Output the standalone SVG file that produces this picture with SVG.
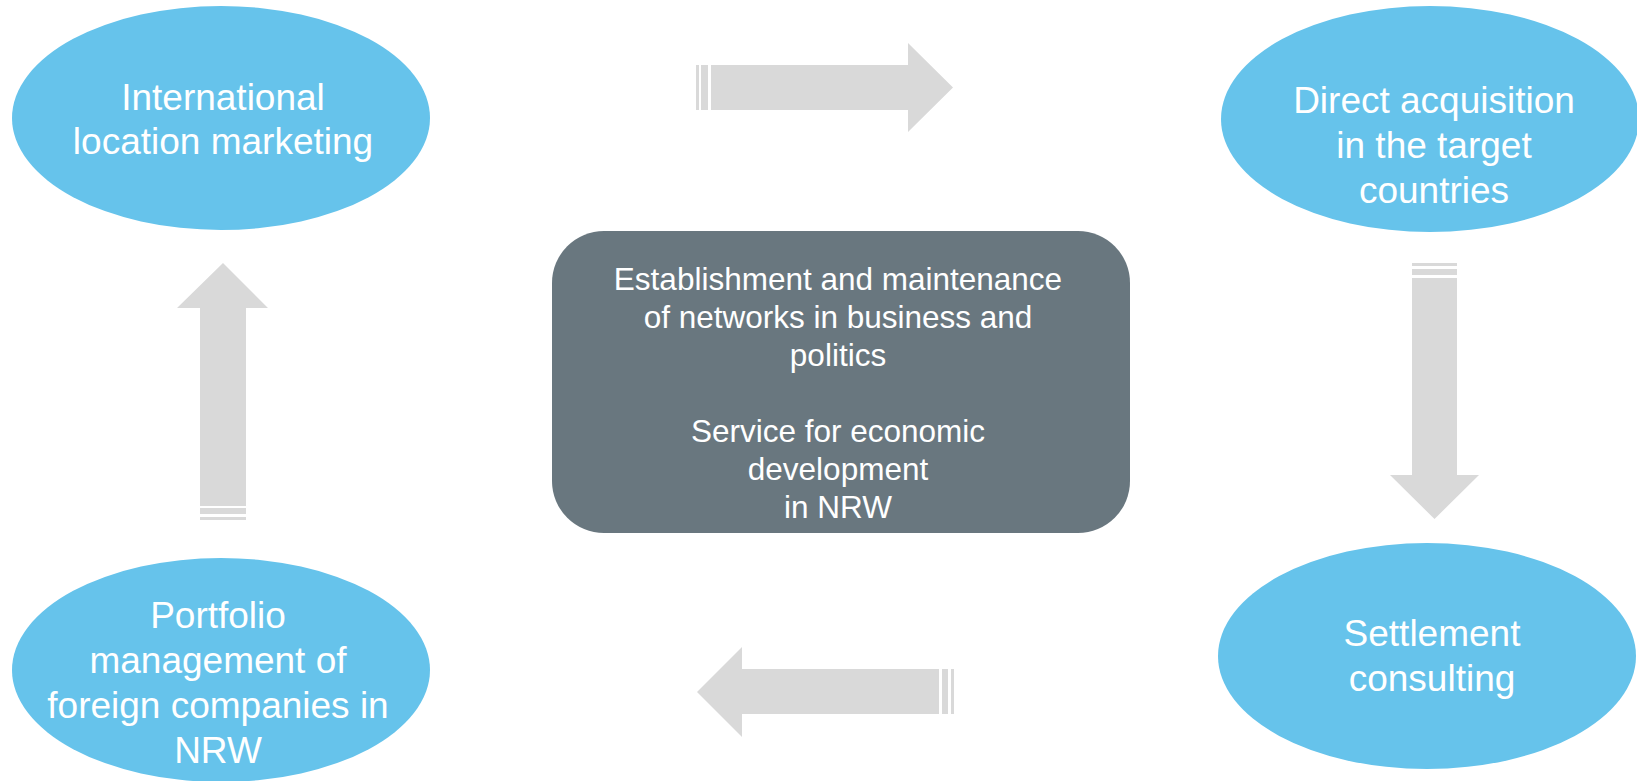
<svg xmlns="http://www.w3.org/2000/svg" width="1637" height="781" viewBox="0 0 1637 781">
<style>
.ell{fill:#66C3EB;}
.box{fill:#69777F;}
.arr{fill:#D9D9D9;}
.t{font-family:"Liberation Sans",Arial,sans-serif;fill:#FFFFFF;text-anchor:middle;}
.big{font-size:37px;}
.mid{font-size:31.5px;}
</style>
<rect width="1637" height="781" fill="#FFFFFF"/>
<g id="connectors">
<g id="arrow-top">
<rect class="arr" x="696" y="65" width="3" height="45"/>
<rect class="arr" x="701" y="65" width="7" height="45"/>
<polygon class="arr" points="711,65 908,65 908,43 953,87.5 908,132 908,110 711,110"/>
</g>
<g id="arrow-right">
<rect class="arr" x="1412" y="263" width="45" height="3"/>
<rect class="arr" x="1412" y="269" width="45" height="6"/>
<polygon class="arr" points="1412,278 1457,278 1457,475 1479,475 1434.5,519 1390,475 1412,475"/>
</g>
<g id="arrow-bottom">
<rect class="arr" x="942" y="669" width="6" height="45"/>
<rect class="arr" x="951" y="669" width="3" height="45"/>
<polygon class="arr" points="939,669 742,669 742,647 697,692 742,737 742,714 939,714"/>
</g>
<g id="arrow-left">
<rect class="arr" x="200" y="508" width="46" height="6"/>
<rect class="arr" x="200" y="517" width="46" height="3"/>
<polygon class="arr" points="200,506 200,308 177,308 223,263 268,308 246,308 246,506"/>
</g>
</g>
<g id="node-intl">
<ellipse class="ell" cx="221" cy="118" rx="209" ry="112"/>
<text class="t big" x="223" y="110">International</text>
<text class="t big" x="223" y="154">location marketing</text>
</g>
<g id="node-direct">
<ellipse class="ell" cx="1430" cy="119" rx="209" ry="113"/>
<text class="t big" x="1434" y="113">Direct acquisition</text>
<text class="t big" x="1434" y="158">in the target</text>
<text class="t big" x="1434" y="203">countries</text>
</g>
<g id="node-settlement">
<ellipse class="ell" cx="1427" cy="656" rx="209" ry="113"/>
<text class="t big" x="1432" y="646">Settlement</text>
<text class="t big" x="1432" y="691">consulting</text>
</g>
<g id="node-portfolio">
<ellipse class="ell" cx="221" cy="670" rx="209" ry="112"/>
<text class="t big" x="218" y="628">Portfolio</text>
<text class="t big" x="218" y="673">management of</text>
<text class="t big" x="218" y="718">foreign companies in</text>
<text class="t big" x="218" y="763">NRW</text>
</g>
<g id="node-center">
<rect class="box" x="552" y="231" width="578" height="302" rx="52" ry="52"/>
<text class="t mid" x="838" y="290">Establishment and maintenance</text>
<text class="t mid" x="838" y="328">of networks in business and</text>
<text class="t mid" x="838" y="366">politics</text>
<text class="t mid" x="838" y="442">Service for economic</text>
<text class="t mid" x="838" y="480">development</text>
<text class="t mid" x="838" y="518">in NRW</text>
</g>
</svg>
